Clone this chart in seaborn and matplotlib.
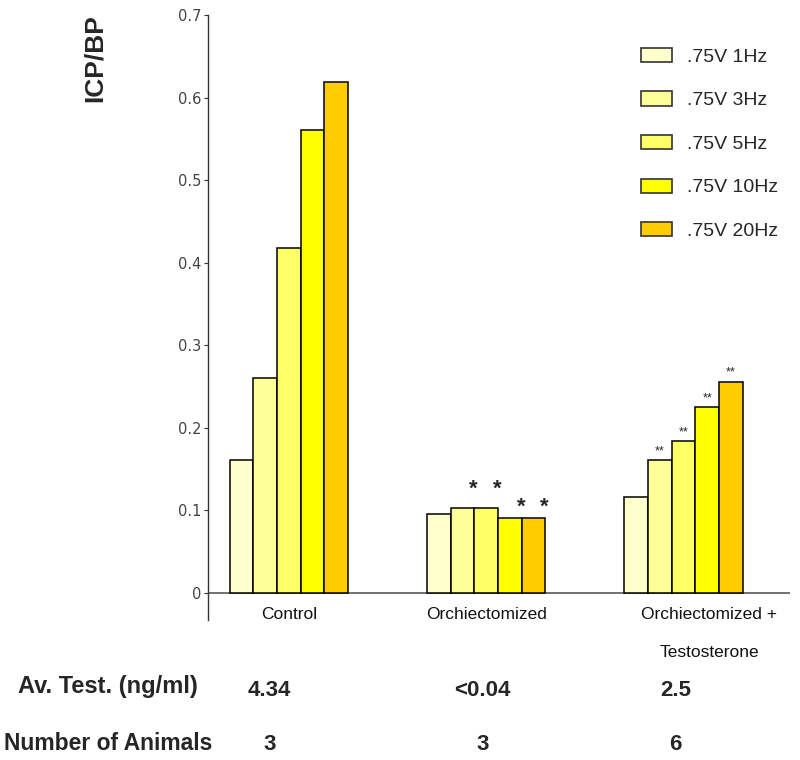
import pandas as pd
import matplotlib
matplotlib.use("Agg")
import matplotlib.pyplot as plt
import seaborn as sns

# values
groups = ['Control', 'Orchiectomized', 'Orchiectomized +\nTestosterone']
freqs = ['.75V 1Hz', '.75V 3Hz', '.75V 5Hz', '.75V 10Hz', '.75V 20Hz']
control = [0.161, 0.261, 0.418, 0.561, 0.619]
orchi = [0.096, 0.103, 0.103, 0.091, 0.091]
orchi_test = [0.116, 0.161, 0.184, 0.225, 0.256]
colors = ['#FFFFCC', '#FFFF99', '#FFFF66', '#FFFF00', '#FFCC00']

orchi_marks = ['', '*', '*', '*', '*']
orchi_test_marks = ['', '**', '**', '**', '**']
av_test = ['4.34', '<0.04', '2.5']
n_animals = ['3', '3', '6']

rows = []
for g, vals in zip(groups, [control, orchi, orchi_test]):
    for f, v in zip(freqs, vals):
        rows.append({'group': g, 'freq': f, 'ratio': v})
df = pd.DataFrame(rows)

sns.set_style("white")
plt.rcParams['font.family'] = ['Liberation Sans', 'DejaVu Sans']

fig = plt.figure(figsize=(8, 7.6), dpi=100)
ax = fig.add_axes([0.26, 0.184, 0.7275, 0.796])

sns.barplot(data=df, x='group', y='ratio', hue='freq', hue_order=freqs,
            palette=colors, width=0.6, gap=0, edgecolor='black', linewidth=1.1,
            saturation=1, errorbar=None, ax=ax)

ax.set_ylim(-0.033, 0.7)
ax.set_xlim(-0.41, 2.54)
ax.set_yticks([0, 0.1, 0.2, 0.3, 0.4, 0.5, 0.6, 0.7])
ax.set_yticklabels(['0', '0.1', '0.2', '0.3', '0.4', '0.5', '0.6', '0.7'],
                   fontsize=10.5, color='#444444', family='DejaVu Sans')
ax.tick_params(axis='y', direction='out', length=3, width=0.8, left=True, color='#333333', pad=2)
ax.set_xticks([])

for s in ['top', 'right', 'bottom']:
    ax.spines[s].set_visible(False)
ax.spines['left'].set_color('#333333')
ax.spines['left'].set_linewidth(1)
ax.axhline(0, color='#666666', lw=1.3, zorder=0)
ax.set_xlabel('')
ax.set_ylabel('')

# group names just under the baseline
name_dx = [0, 0, 0.13]
for i, g in enumerate(groups):
    ax.text(i + name_dx[i], -0.017, g, ha='center', va='top', fontsize=12.5,
            linespacing=2.9, color='#111111')

fig.text(95 / 800, 1 - 14 / 760, 'ICP/BP', rotation=90, ha='center', va='top',
         fontsize=19, fontweight='bold')

# significance marks
for i, cont in enumerate(ax.containers):
    bars = list(cont)
    b = bars[1]
    if orchi_marks[i]:
        off = 6 if i in (1, 2) else 0
        ax.annotate(orchi_marks[i], (b.get_x() + b.get_width() / 2, b.get_height()),
                    xytext=(8, off), textcoords='offset points', ha='center', va='bottom',
                    fontsize=16, fontweight='bold')
    b = bars[2]
    if orchi_test_marks[i]:
        ax.annotate(orchi_test_marks[i], (b.get_x() + b.get_width() / 2, b.get_height()),
                    xytext=(0, 2), textcoords='offset points', ha='center', va='bottom',
                    fontsize=9)

leg = ax.legend(loc='upper right', bbox_to_anchor=(1.01, 0.975), frameon=False, fontsize=14,
                labelspacing=1.32, handlelength=1.6, handleheight=0.75, handletextpad=0.8)
for h in leg.legend_handles:
    h.set_edgecolor('#333333')
    h.set_linewidth(1.2)

# table rows below the chart
fig.text(108 / 800, 1 - 687 / 760, 'Av. Test. (ng/ml)', ha='center', va='center',
         fontsize=17, fontweight='bold')
fig.text(108 / 800, 1 - 744 / 760, 'Number of Animals', ha='center', va='center',
         fontsize=16.5, fontweight='bold')
val_dx = [-0.1, -0.02, -0.04]
for i in range(3):
    x_fig = fig.transFigure.inverted().transform(ax.transData.transform((i + val_dx[i], 0)))[0]
    fig.text(x_fig, 1 - 690 / 760, av_test[i], ha='center', va='center',
             fontsize=16, fontweight='bold')
    fig.text(x_fig, 1 - 745 / 760, n_animals[i], ha='center', va='center',
             fontsize=16, fontweight='bold')

fig.savefig('out.png', dpi=100)
